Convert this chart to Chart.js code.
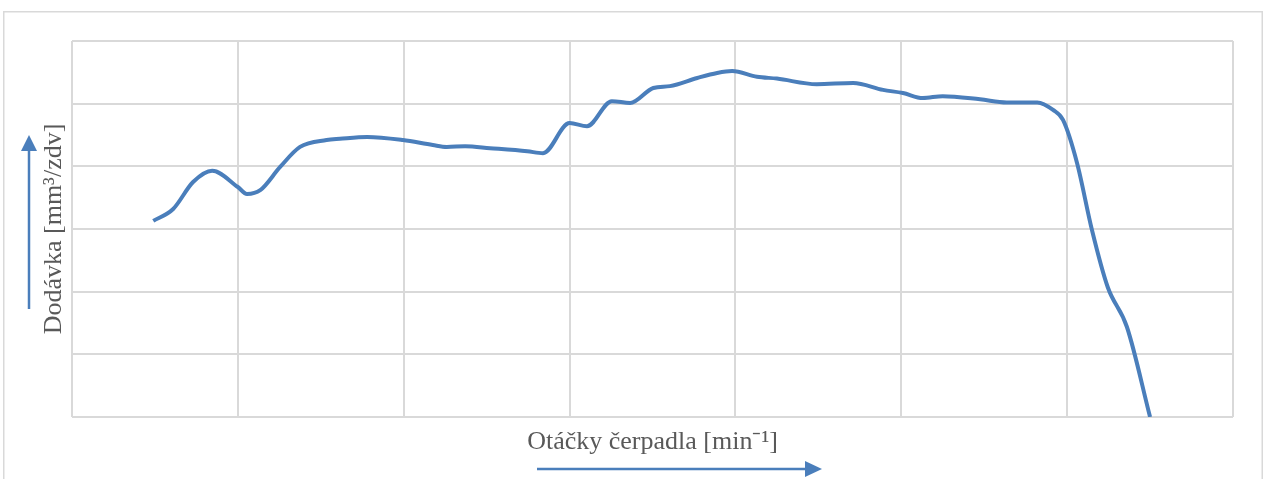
<!DOCTYPE html>
<html>
<head>
<meta charset="utf-8">
<script src="https://cdn.jsdelivr.net/npm/chart.js@4/dist/chart.umd.min.js"></script>
<style>
  html, body { margin: 0; padding: 0; background: #ffffff; }
  #wrap { position: relative; width: 1267px; height: 479px; }
  canvas { display: block; }
</style>
</head>
<body>
<div id="wrap"><canvas id="c" width="1267" height="479"></canvas></div>
<script>
// Pump speed (min^-1) and delivery (mm^3/stroke)
const speeds = [98, 122, 146, 169, 200, 211, 227, 251, 275, 307, 323, 356, 399, 435, 452, 474, 504, 549, 568, 600, 621, 651, 673, 701, 721, 754, 778, 796, 826, 850, 898, 942, 978, 1002, 1026, 1050, 1095, 1127, 1164, 1183, 1195, 1212, 1230, 1249, 1272, 1300];
const delivery = [31.3, 33.2, 37.5, 39.3, 36.7, 35.6, 36.2, 39.9, 43.1, 44.2, 44.4, 44.7, 44.2, 43.4, 43.1, 43.2, 42.9, 42.4, 42.1, 46.9, 46.4, 50.4, 50.1, 52.5, 52.8, 54.1, 54.9, 55.2, 54.3, 54.0, 53.1, 53.3, 52.2, 51.7, 50.9, 51.2, 50.7, 50.2, 50.2, 49.0, 47.4, 40.5, 29.8, 20.7, 14.4, 0];
const xTitle = 'Otáčky čerpadla [min⁻¹]';
const yTitle = 'Dodávka [mm³/zdv]';

const points = speeds.map((s, i) => ({ x: s, y: delivery[i] }));

const BLUE = '#4a7ebb';
const GRID = '#d9d9d9';
const TEXT = '#595959';

const decor = {
  id: 'decor',
  beforeDraw(chart) {
    const ctx = chart.ctx;
    ctx.save();
    ctx.strokeStyle = GRID;
    ctx.lineWidth = 1.5;
    ctx.strokeRect(3.75, 11.75, 1258.5, 500);
    ctx.restore();
  },
  afterDraw(chart) {
    const ctx = chart.ctx;
    ctx.save();
    ctx.strokeStyle = BLUE;
    ctx.fillStyle = BLUE;
    ctx.lineWidth = 2.5;
    // vertical arrow
    ctx.beginPath();
    ctx.moveTo(29, 309);
    ctx.lineTo(29, 148);
    ctx.stroke();
    ctx.beginPath();
    ctx.moveTo(29, 135);
    ctx.lineTo(37, 151);
    ctx.lineTo(21, 151);
    ctx.closePath();
    ctx.fill();
    // horizontal arrow
    ctx.beginPath();
    ctx.moveTo(537, 469);
    ctx.lineTo(808, 469);
    ctx.stroke();
    ctx.beginPath();
    ctx.moveTo(822, 469);
    ctx.lineTo(805, 461);
    ctx.lineTo(805, 477);
    ctx.closePath();
    ctx.fill();
    ctx.restore();
  }
};

new Chart(document.getElementById('c'), {
  type: 'line',
  data: {
    datasets: [{
      data: points,
      borderColor: BLUE,
      borderWidth: 4,
      pointRadius: 0,
      cubicInterpolationMode: 'monotone',
      fill: false
    }]
  },
  options: {
    responsive: false,
    animation: false,
    events: [],
    layout: { padding: { left: 38.8, right: 34, top: 41, bottom: 21 } },
    plugins: { legend: { display: false }, tooltip: { enabled: false } },
    scales: {
      x: {
        type: 'linear',
        min: 0, max: 1400,
        ticks: { display: false, stepSize: 200 },
        grid: { color: GRID, lineWidth: 2, drawTicks: false },
        border: { display: false },
        title: {
          display: true, text: xTitle, color: TEXT,
          font: { family: 'Liberation Serif', size: 26 },
          padding: { top: 9.8, bottom: 0 }
        }
      },
      y: {
        min: 0, max: 60,
        ticks: { display: false, stepSize: 10 },
        grid: { color: GRID, lineWidth: 2, drawTicks: false },
        border: { display: false },
        title: {
          display: true, text: yTitle, color: TEXT,
          font: { family: 'Liberation Serif', size: 26 },
          padding: { top: 0, bottom: 2 }
        }
      }
    }
  },
  plugins: [decor]
});
</script>
</body>
</html>
